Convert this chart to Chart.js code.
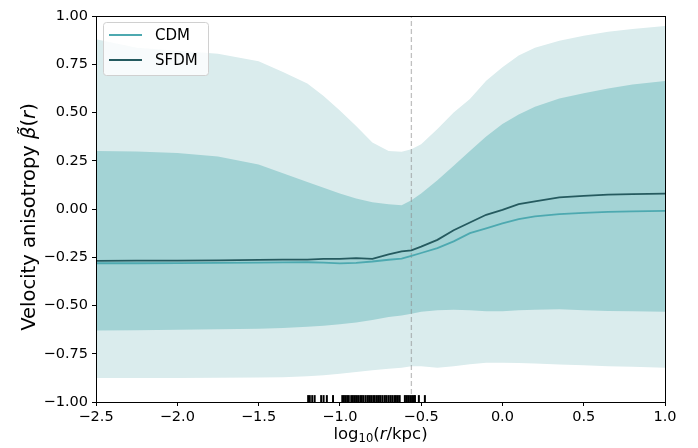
<!DOCTYPE html>
<html>
<head>
<meta charset="utf-8">
<script src="https://cdn.jsdelivr.net/npm/chart.js@4/dist/chart.umd.min.js"></script>
<style>
html, body { margin: 0; padding: 0; background: #fff; }
</style>
</head>
<body>
<canvas id="chart" width="698" height="448"></canvas>
<script>
// radius grid, log10(r/kpc)
const xs = [-2.5, -2.25, -2.0, -1.75, -1.5, -1.35, -1.2, -1.1, -1.0, -0.9, -0.8, -0.7, -0.62, -0.56,
            -0.5, -0.4, -0.3, -0.2, -0.1, 0.0, 0.1, 0.2, 0.35, 0.5, 0.65, 0.8, 1.0];

// median anisotropy profiles
const cdm  = [-0.281, -0.281, -0.280, -0.279, -0.278, -0.277, -0.276, -0.278, -0.282, -0.279, -0.272, -0.263, -0.257, -0.243,
              -0.228, -0.203, -0.168, -0.125, -0.100, -0.075, -0.052, -0.038, -0.027, -0.020, -0.015, -0.012, -0.010];
const sfdm = [-0.269, -0.268, -0.267, -0.266, -0.264, -0.262, -0.262, -0.258, -0.258, -0.255, -0.258, -0.235, -0.220, -0.214,
              -0.195, -0.160, -0.110, -0.070, -0.030, -0.005, 0.025, 0.040, 0.060, 0.068, 0.074, 0.077, 0.080];

// scatter bands
const innerUpper = [0.300, 0.298, 0.290, 0.272, 0.230, 0.185, 0.140, 0.110, 0.080, 0.054, 0.035, 0.025, 0.020, 0.045,
                    0.080, 0.149, 0.224, 0.300, 0.376, 0.440, 0.490, 0.530, 0.572, 0.600, 0.625, 0.645, 0.663];
const innerLower = [-0.630, -0.628, -0.626, -0.623, -0.620, -0.617, -0.610, -0.605, -0.597, -0.588, -0.575, -0.560, -0.552, -0.543,
                    -0.532, -0.525, -0.522, -0.525, -0.530, -0.530, -0.525, -0.522, -0.520, -0.525, -0.528, -0.530, -0.532];
const outerUpper = [0.879, 0.835, 0.820, 0.805, 0.765, 0.710, 0.650, 0.585, 0.510, 0.430, 0.345, 0.300, 0.297, 0.309,
                    0.335, 0.415, 0.500, 0.570, 0.665, 0.735, 0.795, 0.835, 0.872, 0.898, 0.918, 0.932, 0.948];
const outerLower = [-0.875, -0.875, -0.875, -0.874, -0.873, -0.872, -0.866, -0.861, -0.853, -0.845, -0.836, -0.828, -0.822, -0.815,
                    -0.815, -0.822, -0.815, -0.805, -0.797, -0.796, -0.798, -0.800, -0.806, -0.810, -0.815, -0.818, -0.822];

// halo positions for the rug
const rugX = [-1.195, -1.185, -1.17, -1.155, -1.115, -1.10, -1.08, -1.042,
              -0.985, -0.975, -0.965, -0.955, -0.945, -0.93, -0.92, -0.91, -0.90, -0.888, -0.875, -0.865,
              -0.855, -0.842, -0.83, -0.82, -0.808, -0.795, -0.785, -0.772, -0.76, -0.75, -0.738, -0.725,
              -0.715, -0.702, -0.69, -0.678, -0.665, -0.655, -0.643, -0.632,
              -0.60, -0.59, -0.58, -0.568, -0.556, -0.545, -0.538, -0.514, -0.477];
const rugY = -0.985;
const vlineX = -0.56;

const seriesNames = ['CDM', 'SFDM'];

const pts = ys => xs.map((x, i) => ({ x: x, y: ys[i] }));
const minus = s => s.replace('-', '\u2212');

const font = 'DejaVu Sans';

// draw text runs one after the other (for mixed italic / subscript)
function drawRuns(ctx, runs, size) {
    let total = 0;
    runs.forEach(r => {
        ctx.font = (r.italic ? 'italic ' : '') + (size * (r.scale || 1)) + 'px "' + font + '"';
        r.w = ctx.measureText(r.t).width;
        total += r.w;
    });
    let x = -total / 2;
    runs.forEach(r => {
        ctx.font = (r.italic ? 'italic ' : '') + (size * (r.scale || 1)) + 'px "' + font + '"';
        ctx.fillText(r.t, x, (r.dy || 0));
        x += r.w;
    });
}

const extras = {
    id: 'extras',
    afterDraw(chart) {
        const ctx = chart.ctx;
        const a = chart.chartArea;
        ctx.save();
        // axes box
        ctx.strokeStyle = '#000';
        ctx.lineWidth = 1;
        ctx.strokeRect(Math.round(a.left) + 0.5, Math.round(a.top) + 0.5,
                       Math.round(a.right - a.left), Math.round(a.bottom - a.top));

        // axis titles
        ctx.fillStyle = '#000';
        ctx.textBaseline = 'middle';
        ctx.textAlign = 'left';
        ctx.save();
        ctx.translate((a.left + a.right) / 2, 435);
        drawRuns(ctx, [
            { t: 'log' },
            { t: '10', scale: 0.7, dy: 4 },
            { t: '(' },
            { t: 'r', italic: true },
            { t: '/kpc)' }
        ], 16.5);
        ctx.restore();

        ctx.save();
        ctx.translate(30, 217);
        ctx.rotate(-Math.PI / 2);
        drawRuns(ctx, [
            { t: 'Velocity anisotropy ' },
            { t: '\u03B2\u0303', italic: true },
            { t: '(' },
            { t: 'r', italic: true },
            { t: ')' }
        ], 19.5);
        ctx.restore();

        // legend
        const lx = 103, ly = 22, lw = 105, lh = 53;
        ctx.beginPath();
        ctx.roundRect(lx + 0.5, ly + 0.5, lw, lh, 3);
        ctx.fillStyle = 'rgba(255,255,255,0.8)';
        ctx.fill();
        ctx.strokeStyle = '#d0d0d0';
        ctx.stroke();
        ctx.font = '15px "' + font + '"';
        ctx.textBaseline = 'middle';
        seriesNames.forEach((name, i) => {
            const ds = chart.data.datasets[i];
            const y = ly + 13 + i * 25;
            ctx.strokeStyle = ds.borderColor;
            ctx.lineWidth = ds.borderWidth;
            ctx.beginPath();
            ctx.moveTo(lx + 6, y);
            ctx.lineTo(lx + 39, y);
            ctx.stroke();
            ctx.fillStyle = '#000';
            ctx.fillText(name, lx + 52, y + 1);
        });
        ctx.restore();
    }
};

document.addEventListener('DOMContentLoaded', () => {
    const ctx = document.getElementById('chart').getContext('2d');

    const chart = new Chart(ctx, {
        type: 'line',
        data: {
            datasets: [
                { label: seriesNames[0], data: pts(cdm), borderColor: '#4da9b0', borderWidth: 1.8,
                  pointRadius: 0, fill: false, order: 0, tension: 0 },
                { label: seriesNames[1], data: pts(sfdm), borderColor: '#255a5f', borderWidth: 1.8,
                  pointRadius: 0, fill: false, order: 0, tension: 0 },
                { label: 'rug', data: rugX.map(x => ({ x: x, y: rugY })), showLine: false,
                  pointStyle: 'line', pointRotation: 90, pointRadius: 4,
                  pointBorderColor: '#000', pointBorderWidth: 2, order: 0 },
                { label: 'vline', data: [{ x: vlineX, y: -1 }, { x: vlineX, y: 1 }],
                  borderColor: 'rgba(140,140,140,0.55)', borderWidth: 1.3, borderDash: [5, 3],
                  pointRadius: 0, fill: false, order: 1 },
                { label: 'inner', data: pts(innerUpper), borderWidth: 0, pointRadius: 0,
                  backgroundColor: '#a3d3d5', fill: 5, order: 2 },
                { label: 'innerLow', data: pts(innerLower), borderWidth: 0, pointRadius: 0,
                  fill: false, order: 2 },
                { label: 'outer', data: pts(outerUpper), borderWidth: 0, pointRadius: 0,
                  backgroundColor: '#daeced', fill: 7, order: 3 },
                { label: 'outerLow', data: pts(outerLower), borderWidth: 0, pointRadius: 0,
                  fill: false, order: 3 }
            ]
        },
        options: {
            responsive: false,
            animation: false,
            events: [],
            layout: { padding: { left: 0, right: 33, top: 16, bottom: 0 } },
            plugins: {
                legend: { display: false },
                tooltip: { enabled: false }
            },
            scales: {
                x: {
                    type: 'linear',
                    min: -2.5,
                    max: 1.0,
                    afterFit: s => { s.height = 46; },
                    grid: { display: true, drawOnChartArea: false, drawTicks: true, tickLength: 4, color: '#000' },
                    border: { display: true, color: '#000' },
                    ticks: {
                        stepSize: 0.5,
                        color: '#000',
                        padding: 3,
                        maxRotation: 0,
                        font: { family: font, size: 14.5 },
                        callback: v => minus(v.toFixed(1))
                    }
                },
                y: {
                    min: -1,
                    max: 1,
                    afterFit: s => { s.width = 96; },
                    grid: { display: true, drawOnChartArea: false, drawTicks: true, tickLength: 4, color: '#000' },
                    border: { display: true, color: '#000' },
                    ticks: {
                        stepSize: 0.25,
                        color: '#000',
                        padding: 4,
                        font: { family: font, size: 14.5 },
                        callback: v => minus(v.toFixed(2))
                    }
                }
            }
        },
        plugins: [extras]
    });
});
</script>
</body>
</html>
